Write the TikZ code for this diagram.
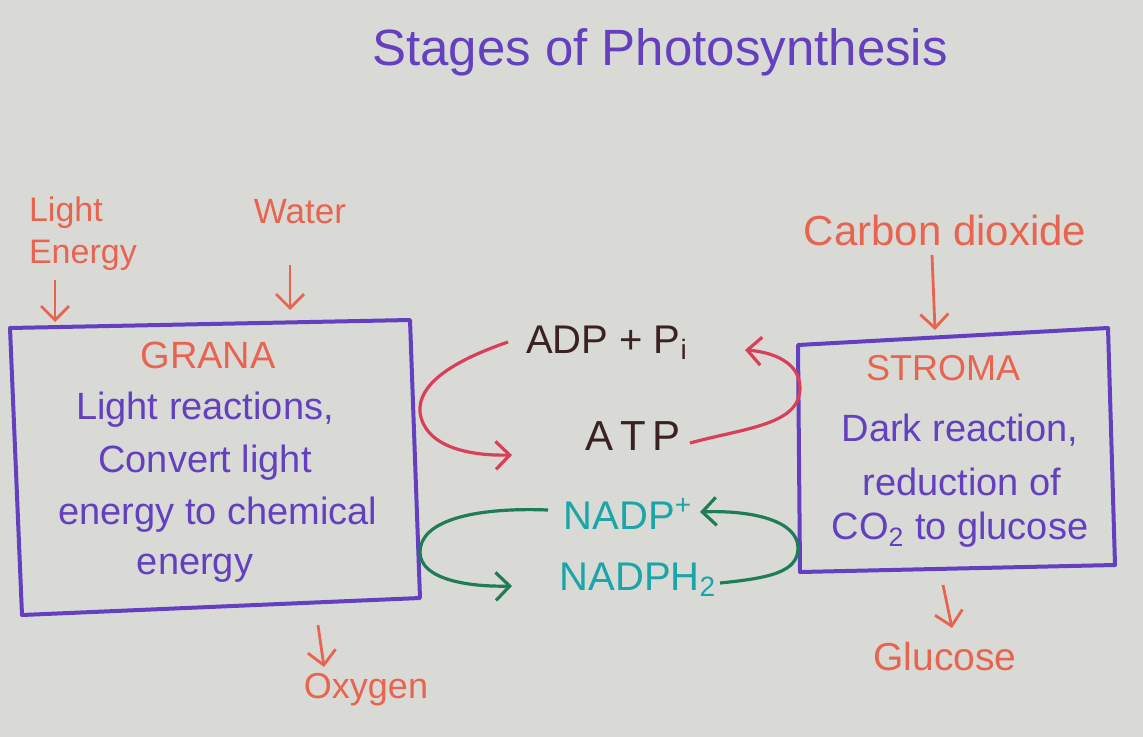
\documentclass[tikz,border=0pt]{standalone}
\usepackage{fontspec}
\setmainfont{Liberation Sans}
\usetikzlibrary{arrows.meta}
\definecolor{bg}{HTML}{D9DAD6}
\definecolor{violet}{HTML}{6440C0}
\definecolor{label}{HTML}{E8644F}
\definecolor{redarr}{HTML}{D8405A}
\definecolor{darktxt}{HTML}{3A2222}
\definecolor{teal}{HTML}{1AA5A8}
\definecolor{greenarr}{HTML}{1F7D55}
\tikzset{
  boxline/.style={draw=violet, line width=2pt, line join=round},
  boxtext/.style={text=violet, font=\fontsize{19}{22}\selectfont, align=center},
  lbl/.style={text=label, font=\fontsize{18}{21}\selectfont},
  inarrow/.style={draw=label, line width=1.4pt, -{Straight Barb[length=7pt,width=14pt,line width=1.4pt]}},
  redcurve/.style={draw=redarr, line width=1.6pt, -{Straight Barb[length=7pt,width=14pt,line width=1.6pt]}},
  greencurve/.style={draw=greenarr, line width=1.6pt, -{Straight Barb[length=7pt,width=14pt,line width=1.6pt]}},
  mol/.style={font=\fontsize{20}{24}\selectfont},
}
\begin{document}
\begin{tikzpicture}[x=0.5pt,y=-0.5pt]
\path[use as bounding box, fill=bg] (0,0) rectangle (1143,737);

% title
\node[text=violet, font=\fontsize{25.5}{30}\selectfont] (title) at (660,52) {Stages of Photosynthesis};

% GRANA box
\coordinate (g1) at (10,328); \coordinate (g2) at (410,320);
\coordinate (g3) at (420,598); \coordinate (g4) at (22,615);
\draw[boxline] (g1) -- (g2) -- (g3) -- (g4) -- cycle;
\node[lbl, font=\fontsize{19}{22}\selectfont] (granat) at (208,355) {GRANA};
\node[boxtext] (l1) at (205,410) {Light reactions,};
\node[boxtext] (l2) at (205,463) {Convert light};
\node[boxtext] (l3) at (218,515) {energy to chemical};
\node[boxtext] (l4) at (195,568) {energy};

% STROMA box
\coordinate (s1) at (798,345); \coordinate (s2) at (1108,328);
\coordinate (s3) at (1115,565); \coordinate (s4) at (800,572);
\draw[boxline] (s1) -- (s2) -- (s3) -- (s4) -- cycle;
\node[lbl, font=\fontsize{18}{21}\selectfont] (stromat) at (943,368) {STROMA};
\node[boxtext] (d1) at (960,430) {Dark reaction,};
\node[boxtext] (d2) at (962,482) {reduction of};
\node[boxtext] (d3) at (960,530) {CO\textsubscript{2} to glucose};

% inputs / outputs
\node[lbl, align=left, anchor=north west, font=\fontsize{17}{21}\selectfont] (light) at (22,190) {Light\\Energy};
\coordinate (la) at (55,280); \coordinate (lb) at (55,322);
\draw[inarrow] (la) -- (lb);
\node[lbl, font=\fontsize{17.5}{20}\selectfont] (water) at (300,212) {Water};
\coordinate (wa) at (290,265); \coordinate (wb) at (290,310);
\draw[inarrow] (wa) -- (wb);
\node[lbl, font=\fontsize{21}{24}\selectfont] (co2) at (945,230) {Carbon dioxide};
\coordinate (ca) at (932,255); \coordinate (cb) at (935,330);
\draw[inarrow] (ca) -- (cb);
\node[lbl, font=\fontsize{19.5}{23}\selectfont] (glucose) at (945,657) {Glucose};
\coordinate (ga) at (943,585); \coordinate (gb) at (952,628);
\draw[inarrow] (ga) -- (gb);
\node[lbl] (oxygen) at (366,690) {Oxygen};
\coordinate (oa) at (318,625); \coordinate (ob) at (324,667);
\draw[inarrow] (oa) -- (ob);

% molecules
\node[mol, text=darktxt] (adp) at (607,343) {ADP + P\textsubscript{i}};
\node[mol, text=darktxt, font=\fontsize{21}{24}\selectfont] (atp) at (633,436) {A\,T\,P};
\node[mol, text=teal] (nadp) at (628,514) {NADP\textsuperscript{+}};
\node[mol, text=teal] (nadph) at (638,580) {NADPH\textsubscript{2}};

% red cycle
\coordinate (r1s) at (508,342); \coordinate (r1e) at (512,455);
\draw[redcurve] (r1s) .. controls (450,362) and (418,385) .. (420,412)
  .. controls (424,445) and (465,456) .. (r1e);
\coordinate (r2s) at (690,443); \coordinate (r2e) at (745,350);
\draw[redcurve] (r2s) .. controls (745,428) and (800,425) .. (800,388)
  .. controls (800,362) and (772,352) .. (r2e);

% green cycle
\coordinate (q1s) at (548,510); \coordinate (q1e) at (512,586);
\draw[greencurve] (q1s) .. controls (470,507) and (420,522) .. (420,552)
  .. controls (420,580) and (470,587) .. (q1e);
\coordinate (q2s) at (720,583); \coordinate (q2e) at (700,512);
\draw[greencurve] (q2s) .. controls (770,578) and (798,572) .. (798,548)
  .. controls (798,520) and (750,510) .. (q2e);
\end{tikzpicture}
\end{document}
